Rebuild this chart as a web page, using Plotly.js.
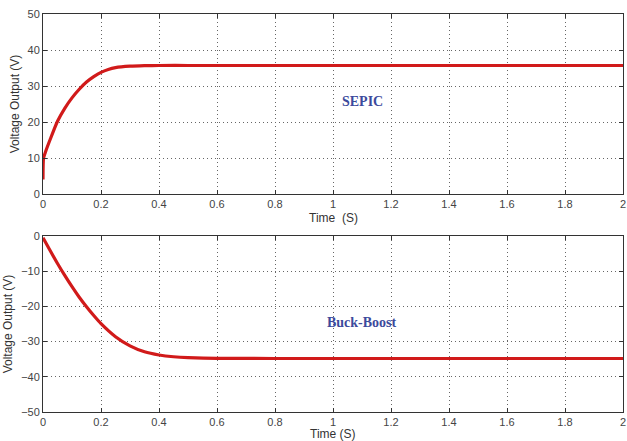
<!DOCTYPE html>
<html>
<head>
<meta charset="utf-8">
<script src="https://cdn.plot.ly/plotly-3.0.1.min.js"></script>
<style>
  html, body { margin: 0; padding: 0; background: #fff; }
  #chart { width: 627px; height: 441px; }
</style>
</head>
<body>
<div id="chart"></div>
<script>
// SEPIC converter output voltage (V) versus time (s)
var sepicTime    = [0, 0.002, 0.01, 0.025, 0.05, 0.075, 0.1, 0.125, 0.15, 0.175, 0.2, 0.225, 0.25, 0.3, 0.35, 0.4, 0.5, 1, 1.5, 2];
var sepicVoltage = [4, 10, 12, 15.2, 20.2, 23.8, 26.7, 29.1, 31.1, 32.6, 33.8, 34.6, 35.1, 35.5, 35.65, 35.7, 35.7, 35.7, 35.7, 35.7];

// Buck-Boost converter output voltage (V) versus time (s)
var bbTime    = [0, 0.025, 0.05, 0.075, 0.1, 0.125, 0.15, 0.175, 0.2, 0.25, 0.3, 0.35, 0.4, 0.45, 0.5, 0.6, 0.8, 1, 1.5, 2];
var bbVoltage = [-0.5, -4.2, -7.8, -11.2, -14.4, -17.4, -20.1, -22.6, -24.9, -28.6, -31.2, -32.9, -33.8, -34.3, -34.55, -34.75, -34.8, -34.8, -34.8, -34.8];

var xTicks = [0, 0.2, 0.4, 0.6, 0.8, 1, 1.2, 1.4, 1.6, 1.8, 2];
var xTickText = ['0', '0.2', '0.4', '0.6', '0.8', '1', '1.2', '1.4', '1.6', '1.8', '2'];
var yTopTicks = [0, 10, 20, 30, 40, 50];
var yBottomTicks = [-50, -40, -30, -20, -10, 0];

var lineStyle = { color: '#d11a1a', width: 3.2, shape: 'spline', smoothing: 0.6 };

var traces = [
  { x: sepicTime, y: sepicVoltage, mode: 'lines', line: lineStyle, xaxis: 'x', yaxis: 'y', hoverinfo: 'skip' },
  { x: bbTime, y: bbVoltage, mode: 'lines', line: lineStyle, xaxis: 'x2', yaxis: 'y2', hoverinfo: 'skip' }
];

var tickFont = { family: 'Liberation Sans, Arial, sans-serif', size: 11, color: '#444' };
var titleFont = { family: 'Liberation Sans, Arial, sans-serif', size: 12, color: '#333' };
var labelFont = { family: 'Liberation Serif, Times New Roman, serif', size: 14, color: '#3c4a9c' };

function xAxis(anchor) {
  return {
    anchor: anchor, domain: [0, 1], range: [0, 2],
    tickvals: xTicks, ticktext: xTickText,
    ticks: 'inside', ticklen: 4, tickcolor: '#333',
    showline: true, linecolor: '#333', linewidth: 1, mirror: 'ticks',
    showgrid: true, gridcolor: '#666', griddash: '1px,3px', gridwidth: 1,
    zeroline: false, tickfont: tickFont
  };
}
function yAxis(anchor, domain, range, ticks) {
  return {
    anchor: anchor, domain: domain, range: range,
    tickvals: ticks,
    ticks: 'inside', ticklen: 4, tickcolor: '#333',
    showline: true, linecolor: '#333', linewidth: 1, mirror: 'ticks',
    showgrid: true, gridcolor: '#666', griddash: '1px,3px', gridwidth: 1,
    zeroline: false, tickfont: tickFont,
    title: { text: 'Voltage Output (V)', font: titleFont, standoff: 5 }
  };
}

var layout = {
  width: 627, height: 441,
  margin: { l: 43, r: 4, t: 14, b: 29 },
  paper_bgcolor: '#fff', plot_bgcolor: '#fff',
  showlegend: false,
  xaxis: xAxis('y'),
  yaxis: yAxis('x', [0.5477, 1], [0, 50], yTopTicks),
  xaxis2: xAxis('y2'),
  yaxis2: yAxis('x2', [0, 0.4422], [-50, 0], yBottomTicks),
  annotations: [
    // time-axis titles, placed just under each panel's tick labels
    { x: 1.0, y: 0.4874, xref: 'x', yref: 'paper', yanchor: 'middle', text: 'Time\u00a0\u00a0(S)',
      showarrow: false, font: titleFont },
    { x: 1.0, y: -0.0565, xref: 'x2', yref: 'paper', yanchor: 'middle', text: 'Time (S)',
      showarrow: false, font: titleFont },
    { x: 1.1, y: 25.6, xref: 'x', yref: 'y', text: '<b>SEPIC</b>', showarrow: false, font: labelFont },
    { x: 1.1, y: -24.7, xref: 'x2', yref: 'y2', text: '<b>Buck-Boost</b>', showarrow: false, font: labelFont }
  ]
};

Plotly.newPlot('chart', traces, layout, { staticPlot: true, displayModeBar: false });
</script>
</body>
</html>
